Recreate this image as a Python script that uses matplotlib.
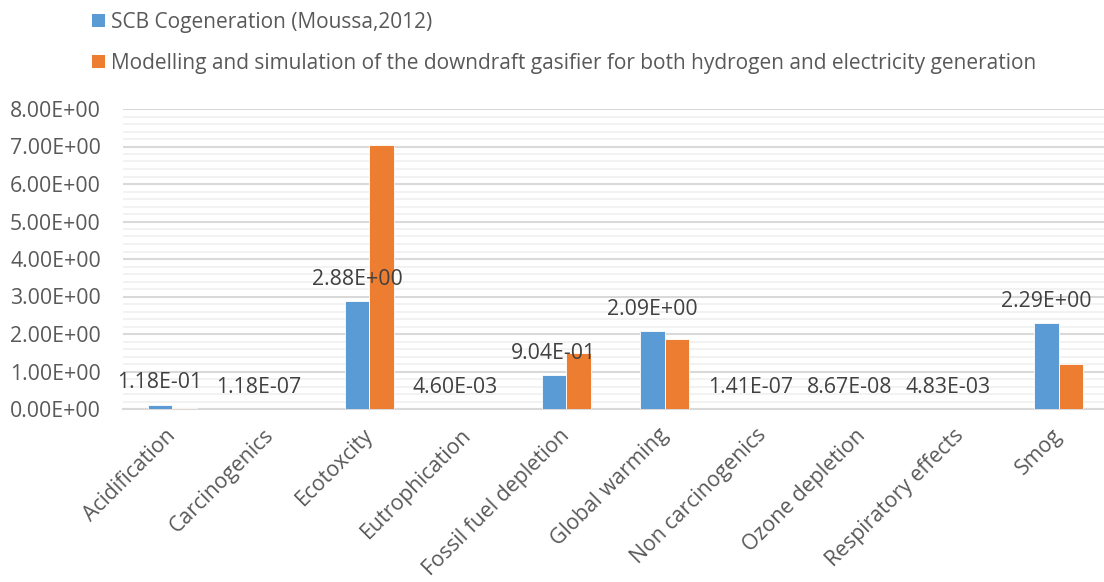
import matplotlib
matplotlib.use("Agg")
import matplotlib.pyplot as plt
import matplotlib.transforms as mtransforms
import numpy as np
from matplotlib.ticker import MultipleLocator, FuncFormatter
from matplotlib.patches import Patch

categories = ["Acidification", "Carcinogenics", "Ecotoxcity", "Eutrophication",
              "Fossil fuel depletion", "Global warming", "Non carcinogenics",
              "Ozone depletion", "Respiratory effects", "Smog"]
scb = [1.18e-01, 1.18e-07, 2.88, 4.60e-03, 9.04e-01, 2.09, 1.41e-07, 8.67e-08, 4.83e-03, 2.29]
model = [0.03, 0.0, 7.05, 0.0, 1.50, 1.86, 0.0, 0.0, 0.0, 1.19]
labels = ["1.18E-01", "1.18E-07", "2.88E+00", "4.60E-03", "9.04E-01", "2.09E+00",
          "1.41E-07", "8.67E-08", "4.83E-03", "2.29E+00"]
series_names = ["SCB Cogeneration (Moussa,2012)",
                "Modelling and simulation of the downdraft gasifier for both hydrogen and electricity generation"]

plt.rcParams['font.family'] = ['Open Sans', 'DejaVu Sans']
TXT = '#595959'
BLUE = '#5B9BD5'
ORANGE = '#ED7D31'
FS = 15.3

fig = plt.figure(figsize=(11.04, 5.82), dpi=100)
ax = fig.add_axes([123 / 1104, 1 - 409 / 582, 985 / 1104, 300 / 582])

x = np.arange(len(categories))
w = 0.25
ax.bar(x - w/2, scb, w, color=BLUE, edgecolor='white', linewidth=0.6, zorder=3)
ax.bar(x + w/2, model, w, color=ORANGE, edgecolor='white', linewidth=0.6, zorder=3)

for xi, v, lab in zip(x, scb, labels):
    ax.annotate(lab, (xi - w/2, v), xytext=(0, 8), textcoords='offset points',
                ha='center', va='bottom', fontsize=FS, color='#404040', zorder=4)

ax.set_xlim(-0.5, len(categories) - 0.5)
ax.set_ylim(0, 8)
ax.yaxis.set_major_locator(MultipleLocator(1))
ax.yaxis.set_minor_locator(MultipleLocator(0.2))
ax.yaxis.set_major_formatter(FuncFormatter(lambda v, p: f"{v:.2E}"))
ax.grid(which='major', axis='y', color='#D9D9D9', linewidth=1.5, zorder=0)
ax.grid(which='minor', axis='y', color='#F0F0F0', linewidth=1.2, zorder=0)
for s in ['top', 'right', 'left']:
    ax.spines[s].set_visible(False)
ax.spines['bottom'].set_color('#D9D9D9')
ax.spines['bottom'].set_linewidth(1.5)
ax.tick_params(axis='both', which='both', length=0, colors=TXT, labelsize=FS)
ax.tick_params(axis='y', pad=16)
ax.set_xticks(x)
ax.set_xticklabels(categories, rotation=45, ha='right', rotation_mode='anchor')
ax.tick_params(axis='x', pad=10)
offset = mtransforms.ScaledTranslation(-0.07, -0.02, fig.dpi_scale_trans)
for lbl in ax.get_xticklabels():
    lbl.set_transform(lbl.get_transform() + offset)

handles = [Patch(facecolor=BLUE), Patch(facecolor=ORANGE)]
fig.legend(handles, series_names, loc='upper left', bbox_to_anchor=(0.0665, 1.012),
           frameon=False, fontsize=15, labelcolor=TXT, handlelength=0.6,
           handleheight=0.6, handletextpad=0.3, labelspacing=0.95)

fig.savefig('out.png', dpi=100)
